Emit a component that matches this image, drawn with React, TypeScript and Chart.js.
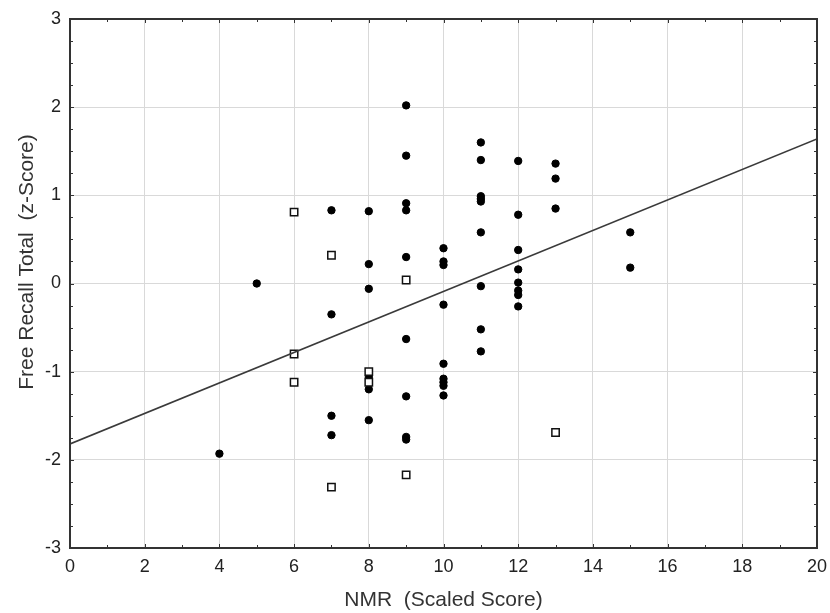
import React, { useEffect, useRef } from "react";
import { Chart, registerables } from "chart.js";

Chart.register(...registerables);

// Filled circles
const filledX = [
  9, 9, 7, 8, 9, 9, 8, 9, 5, 8,
  7, 9, 8, 8, 9, 7, 8, 7, 9, 9, 4,
  11, 11, 12, 13, 13, 11, 11, 11, 13, 12, 11, 15, 10, 10, 10, 12, 15, 12, 12, 11, 12, 12, 12, 10, 11, 11,
  10, 10, 10, 10, 10,
];
const filledY = [
  2.02, 1.45, 0.83, 0.82, 0.91, 0.83, 0.22, 0.3, 0.0, -0.06,
  -0.35, -0.63, -1.06, -1.2, -1.28, -1.5, -1.55, -1.72, -1.74, -1.77, -1.93,
  1.6, 1.4, 1.39, 1.36, 1.19, 0.99, 0.96, 0.93, 0.85, 0.78, 0.58, 0.58, 0.4, 0.25, 0.21, 0.38, 0.18, 0.16, 0.01, -0.03, -0.08, -0.13, -0.26, -0.24, -0.52, -0.77,
  -0.91, -1.08, -1.12, -1.16, -1.27,
];

// Open squares
const openX = [6, 7, 9, 6, 6, 8, 8, 9, 7, 13];
const openY = [0.81, 0.32, 0.04, -0.8, -1.12, -1.0, -1.12, -2.17, -2.31, -1.69];

// Regression line end points
const fitX = [0, 20];
const fitY = [-1.82, 1.64];

const xMin = 0;
const xMax = 20;
const xStep = 2;
const yMin = -3;
const yMax = 3;
const yStep = 1;

const xTitle = "NMR  (Scaled Score)";
const yTitle = "Free Recall Total  (z-Score)";

const FONT = "'Liberation Sans', Arial, sans-serif";

const framePlugin = {
  id: "framePlugin",
  afterDraw(chart: any) {
    const { ctx, chartArea } = chart;
    const { left, right, top, bottom } = chartArea;
    const xs = chart.scales.x;
    const ys = chart.scales.y;
    ctx.save();
    ctx.strokeStyle = "#333";
    // inward ticks
    ctx.lineWidth = 1;
    ctx.beginPath();
    for (let v = xMin; v <= xMax + 1e-9; v += 1) {
      const px = Math.round(xs.getPixelForValue(v)) + 0.5;
      const len = v % xStep === 0 ? 4 : 3;
      ctx.moveTo(px, bottom);
      ctx.lineTo(px, bottom - len);
      ctx.moveTo(px, top);
      ctx.lineTo(px, top + len);
    }
    for (let v = yMin; v <= yMax + 1e-9; v += 0.25) {
      const py = Math.round(ys.getPixelForValue(v)) + 0.5;
      const len = Math.abs(v - Math.round(v)) < 1e-6 ? 4 : 3;
      ctx.moveTo(left, py);
      ctx.lineTo(left + len, py);
      ctx.moveTo(right, py);
      ctx.lineTo(right - len, py);
    }
    ctx.stroke();
    // frame
    ctx.lineWidth = 2;
    ctx.strokeRect(left, top, right - left, bottom - top);
    // titles
    ctx.fillStyle = "#333";
    ctx.font = `21px ${FONT}`;
    ctx.textAlign = "center";
    ctx.textBaseline = "middle";
    ctx.fillText(xTitle, (left + right) / 2, 600);
    ctx.translate(27, 262);
    ctx.rotate(-Math.PI / 2);
    ctx.fillText(yTitle, 0, 0);
    ctx.restore();
  },
};

export default function App() {
  const ref = useRef<HTMLCanvasElement | null>(null);

  useEffect(() => {
    document.body.style.margin = "0";
    const canvas = ref.current;
    if (!canvas) return;
    const chart = new Chart(canvas, {
      type: "scatter",
      data: {
        datasets: [
          {
            type: "line",
            data: fitX.map((x, i) => ({ x, y: fitY[i] })),
            borderColor: "#3a3a3a",
            borderWidth: 1.6,
            pointRadius: 0,
            fill: false,
            order: 0,
          } as any,
          {
            data: openX.map((x, i) => ({ x, y: openY[i] })),
            pointStyle: "rect",
            pointRadius: 5.2,
            pointBorderWidth: 1.5,
            pointBackgroundColor: "#ffffff",
            pointBorderColor: "#111",
            order: 1,
          },
          {
            data: filledX.map((x, i) => ({ x, y: filledY[i] })),
            pointStyle: "circle",
            pointRadius: 3.7,
            pointBorderWidth: 1,
            pointBackgroundColor: "#000",
            pointBorderColor: "#000",
            order: 2,
          },
        ],
      },
      options: {
        animation: false,
        responsive: false,
        devicePixelRatio: 1,
        layout: { padding: { top: 19, right: 13, left: 0, bottom: 0 } },
        plugins: {
          legend: { display: false },
          tooltip: { enabled: false },
        },
        scales: {
          x: {
            type: "linear",
            min: xMin,
            max: xMax,
            afterFit: (s: any) => {
              s.height = 65;
              s.paddingRight = 0;
              s.paddingLeft = 0;
            },
            ticks: {
              stepSize: xStep,
              padding: 8,
              color: "#222",
              font: { family: FONT, size: 18 },
            },
            grid: { color: "#d9d9d9", lineWidth: 1, drawTicks: false },
            border: { display: false },
          },
          y: {
            type: "linear",
            min: yMin,
            max: yMax,
            afterFit: (s: any) => {
              s.width = 70;
              s.paddingTop = 0;
              s.paddingBottom = 0;
            },
            ticks: {
              stepSize: yStep,
              padding: 9,
              color: "#222",
              font: { family: FONT, size: 18 },
            },
            grid: { color: "#d9d9d9", lineWidth: 1, drawTicks: false },
            border: { display: false },
          },
        },
      },
      plugins: [framePlugin],
    });
    return () => chart.destroy();
  }, []);

  return (
    <div style={{ position: "absolute", left: 0, top: 0, width: 830, height: 613 }}>
      <canvas ref={ref} width={830} height={613} style={{ display: "block", width: 830, height: 613 }} />
    </div>
  );
}
